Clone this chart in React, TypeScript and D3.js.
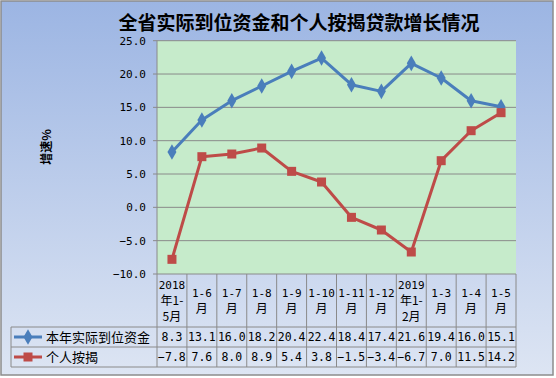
import React from "react";
import * as d3 from "d3";

const categories: string[][] = [
  ["2018", "年1-", "5月"],
  ["1-6", "月"],
  ["1-7", "月"],
  ["1-8", "月"],
  ["1-9", "月"],
  ["1-10", "月"],
  ["1-11", "月"],
  ["1-12", "月"],
  ["2019", "年1-", "2月"],
  ["1-3", "月"],
  ["1-4", "月"],
  ["1-5", "月"],
];
const seriesNames = ["本年实际到位资金", "个人按揭"];
const fundValues = [8.3, 13.1, 16.0, 18.2, 20.4, 22.4, 18.4, 17.4, 21.6, 19.4, 16.0, 15.1];
const mortgageValues = [-7.8, 7.6, 8.0, 8.9, 5.4, 3.8, -1.5, -3.4, -6.7, 7.0, 11.5, 14.2];
const yTicks = [-10, -5, 0, 5, 10, 15, 20, 25];
const title = "全省实际到位资金和个人按揭贷款增长情况";
const yLabel = "增速%";

const W = 556;
const H = 378;
const plot = { left: 157, right: 516, top: 40.7, bottom: 274 };
const rows = { headerBottom: 327, row1Bottom: 347, row2Bottom: 367, legendLeft: 11 };
const colors = ["#4a7ebb", "#be4b48"];
const grid = "#8a8a8a";
const monoFont = "'DejaVu Sans Mono', monospace";
const cjkFont = "'Noto Sans CJK SC', sans-serif";

export default function App() {
  const x = d3
    .scaleBand<number>()
    .domain(d3.range(categories.length))
    .range([plot.left, plot.right])
    .padding(0);
  const y = d3.scaleLinear().domain([-10, 25]).range([plot.bottom, plot.top]);
  const cx = (i: number) => (x(i) as number) + x.bandwidth() / 2;
  const line = d3
    .line<number>()
    .x((_, i) => cx(i))
    .y((d) => y(d));
  const seriesList = [fundValues, mortgageValues];
  const fmt = d3.format(".1f");

  const diamond = d3.symbol(d3.symbolDiamond, 70)() as string;
  const isNum = (s: string) => /^[0-9-]+$/.test(s);

  return (
    <svg
      width={W}
      height={H}
      style={{ position: "absolute", left: 0, top: 0 }}
      xmlns="http://www.w3.org/2000/svg"
    >
      <defs>
        <linearGradient id="bg" x1="0" y1="0" x2="0" y2="1">
          <stop offset="0" stopColor="#9cb5e3" />
          <stop offset="1" stopColor="#dde5f3" />
        </linearGradient>
      </defs>
      <rect x={1} y={1} width={W - 4} height={H - 4} fill="url(#bg)" stroke="#8c8c8c" strokeWidth={1.5} />
      <text
        x={299}
        y={29.5}
        textAnchor="middle"
        fontFamily={cjkFont}
        fontWeight="bold"
        fontSize={19}
        fill="#000"
      >
        {title}
      </text>
      <text
        transform={`translate(51,147) rotate(-90)`}
        textAnchor="middle"
        fontFamily={cjkFont}
        fontWeight="bold"
        fontSize={12}
        fill="#000"
      >
        {yLabel}
      </text>
      {/* plot area */}
      <rect
        x={plot.left}
        y={plot.top}
        width={plot.right - plot.left}
        height={plot.bottom - plot.top}
        fill="#c6ebcb"
      />
      {yTicks.map((t) => (
        <g key={t}>
          {t > -10 && (
            <line x1={plot.left} x2={plot.right} y1={y(t)} y2={y(t)} stroke={grid} strokeWidth={1} />
          )}
          <line x1={plot.left - 4} x2={plot.left} y1={y(t)} y2={y(t)} stroke={grid} />
          <text
            x={146}
            y={y(t) + 4}
            textAnchor="end"
            fontFamily={monoFont}
            fontSize={11}
            fill="#000"
          >
            {fmt(t)}
          </text>
        </g>
      ))}
      <line x1={plot.left} x2={plot.left} y1={plot.top} y2={plot.bottom} stroke={grid} />
      {/* data table */}
      <g stroke={grid} strokeWidth={1} fill="none">
        <line x1={plot.left} x2={plot.right} y1={plot.bottom} y2={plot.bottom} />
        {d3.range(categories.length + 1).map((i) => {
          const xx = i < categories.length ? (x(i) as number) : plot.right;
          return <line key={i} x1={xx} x2={xx} y1={plot.bottom} y2={rows.row2Bottom} />;
        })}
        <line x1={rows.legendLeft} x2={plot.right} y1={rows.headerBottom} y2={rows.headerBottom} />
        <line x1={rows.legendLeft} x2={plot.right} y1={rows.row1Bottom} y2={rows.row1Bottom} />
        <line x1={rows.legendLeft} x2={plot.right} y1={rows.row2Bottom} y2={rows.row2Bottom} />
        <line x1={rows.legendLeft} x2={rows.legendLeft} y1={rows.headerBottom} y2={rows.row2Bottom} />
      </g>
      {categories.map((lines, i) => {
        const lh = 16;
        const mid = (plot.bottom + rows.headerBottom) / 2;
        const start = mid - ((lines.length - 1) * lh) / 2;
        return (
          <g key={i}>
            {lines.map((s, j) => (
              <text
                key={j}
                x={cx(i)}
                y={start + j * lh + 4.5}
                textAnchor="middle"
                fontFamily={isNum(s) ? monoFont : cjkFont}
                fontSize={isNum(s) ? 11 : 12}
                fill="#000"
              >
                {s}
              </text>
            ))}
          </g>
        );
      })}
      {seriesList.map((vals, k) => {
        const top = k === 0 ? rows.headerBottom : rows.row1Bottom;
        const bottom = k === 0 ? rows.row1Bottom : rows.row2Bottom;
        const my = (top + bottom) / 2;
        return (
          <g key={k}>
            <line x1={14} x2={42} y1={my} y2={my} stroke={colors[k]} strokeWidth={3} />
            {k === 0 ? (
              <path d={diamond} transform={`translate(28,${my})`} fill={colors[0]} />
            ) : (
              <rect x={23.5} y={my - 4.5} width={9} height={9} fill={colors[1]} />
            )}
            <text x={46} y={my + 5} fontFamily={cjkFont} fontSize={13} fill="#000">
              {seriesNames[k]}
            </text>
            {vals.map((v, i) => (
              <text
                key={i}
                x={cx(i)}
                y={my + 4}
                textAnchor="middle"
                fontFamily={monoFont}
                fontSize={11.5}
                fill="#000"
              >
                {fmt(v)}
              </text>
            ))}
          </g>
        );
      })}
      {/* lines */}
      {seriesList.map((vals, k) => (
        <g key={"s" + k}>
          <path d={line(vals) as string} fill="none" stroke={colors[k]} strokeWidth={3} strokeLinejoin="round" />
          {vals.map((v, i) =>
            k === 0 ? (
              <path key={i} d={diamond} transform={`translate(${cx(i)},${y(v)})`} fill={colors[0]} />
            ) : (
              <rect key={i} x={cx(i) - 4.5} y={y(v) - 4.5} width={9} height={9} fill={colors[1]} />
            )
          )}
        </g>
      ))}
    </svg>
  );
}
